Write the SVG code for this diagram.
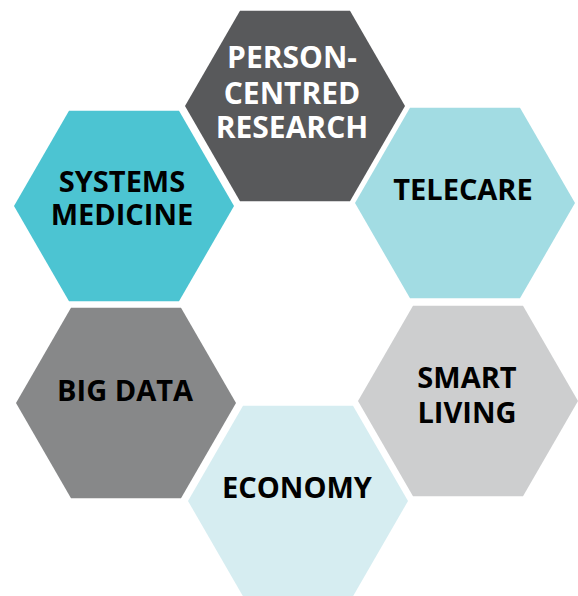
<svg xmlns="http://www.w3.org/2000/svg" width="578" height="596" viewBox="0 0 578 596">
<style>
.lbl{font-family:"Open Sans","Noto Sans","DejaVu Sans",sans-serif;font-weight:700;font-size:29px;text-anchor:middle;fill:#000}
.w{fill:#fff;font-size:30px}
</style>
<defs>
<polygon id="hex" points="-110,0 -55,-95.3 55,-95.3 110,0 55,95.3 -55,95.3"/>
</defs>
<rect width="578" height="596" fill="#fff"/>
<g id="connectors"></g>
<g id="person-centred-research">
<use href="#hex" transform="translate(295,106)" fill="#58595b"/>
<text class="lbl w" x="292" y="68">PERSON-</text>
<text class="lbl w" x="292" y="104">CENTRED</text>
<text class="lbl w" x="292" y="138">RESEARCH</text>
</g>
<g id="systems-medicine">
<use href="#hex" transform="translate(124,206)" fill="#4cc4d2"/>
<text class="lbl" x="122" y="192">SYSTEMS</text>
<text class="lbl" x="122" y="225">MEDICINE</text>
</g>
<g id="telecare">
<use href="#hex" transform="translate(465,203)" fill="#a2dce3"/>
<text class="lbl" x="463" y="200">TELECARE</text>
</g>
<g id="big-data">
<use href="#hex" transform="translate(126,403)" fill="#878889"/>
<text class="lbl" x="125" y="401">BIG DATA</text>
</g>
<g id="smart-living">
<use href="#hex" transform="translate(468,401)" fill="#cdcecf"/>
<text class="lbl" x="467" y="388">SMART</text>
<text class="lbl" x="467" y="423">LIVING</text>
</g>
<g id="economy">
<use href="#hex" transform="translate(298,501)" fill="#d6edf1"/>
<text class="lbl" x="297" y="498">ECONOMY</text>
</g>
</svg>
